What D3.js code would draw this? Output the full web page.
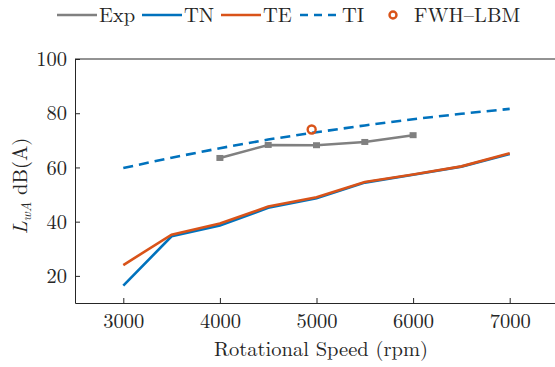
<!DOCTYPE html>
<html>
<head>
<meta charset="utf-8">
<script src="https://cdn.jsdelivr.net/npm/d3@7"></script>
<style>
  body { margin: 0; background: #fff; }
  text { font-family: "Latin Modern Roman", "CMU Serif", "DejaVu Serif", serif; fill: #262626; }
</style>
</head>
<body>
<svg id="chart" width="555" height="367"></svg>
<script>
// rotational speed (rpm)
const speeds = [3000, 3500, 4000, 4500, 5000, 5500, 6000, 6500, 7000];
const tn = [16.4, 34.6, 38.6, 45.1, 48.6, 54.4, 57.3, 60.3, 65.0];
const te = [24.0, 35.2, 39.3, 45.6, 49.0, 54.6, 57.4, 60.4, 65.2];
const ti = [59.8, 63.6, 67.1, 70.3, 73.0, 75.5, 77.8, 79.8, 81.6];
const expSpeeds = [4000, 4500, 5000, 5500, 6000];
const expVals = [63.5, 68.3, 68.2, 69.4, 71.9];
const lbm = [{x: 4950, y: 74.0}];
const xTicks = [3000, 4000, 5000, 6000, 7000];
const yTicks = [20, 40, 60, 80, 100];

const svg = d3.select("#chart");
const m = {left: 75, top: 59, right: 558, bottom: 303};
const fs = 20.5;

const x = d3.scaleLinear().domain([2500, 7500]).range([m.left, m.right]);
const y = d3.scaleLinear().domain([10, 100]).range([m.bottom, m.top]);

const gray = "#808080", blue = "#0072BD", orange = "#D95319";

// axes
svg.append("g")
  .attr("transform", `translate(0,${m.bottom})`)
  .call(d3.axisBottom(x).tickValues(xTicks).tickFormat(d3.format("d"))
    .tickSize(-5).tickSizeOuter(0).tickPadding(10))
  .call(g => g.selectAll("text").attr("font-size", fs).attr("font-family", null))
  .call(g => g.select(".domain").attr("stroke", "#262626"));

svg.append("g")
  .attr("transform", `translate(${m.left},0)`)
  .call(d3.axisLeft(y).tickValues(yTicks).tickSize(-5).tickSizeOuter(0).tickPadding(8))
  .call(g => g.selectAll("text").attr("font-size", fs).attr("font-family", null))
  .call(g => g.select(".domain").attr("stroke", "#262626"));

svg.selectAll(".tick line").attr("stroke", "#262626");

// top box line
svg.append("line")
  .attr("x1", m.left).attr("x2", m.right)
  .attr("y1", m.top).attr("y2", m.top)
  .attr("stroke", "#262626");

// lines
const line = d3.line().x(d => x(d[0])).y(d => y(d[1]));

svg.append("path").datum(d3.zip(speeds, ti))
  .attr("d", line).attr("fill", "none")
  .attr("stroke", blue).attr("stroke-width", 2.6).attr("stroke-dasharray", "10,6");

svg.append("path").datum(d3.zip(speeds, tn))
  .attr("d", line).attr("fill", "none")
  .attr("stroke", blue).attr("stroke-width", 2.6);

svg.append("path").datum(d3.zip(speeds, te))
  .attr("d", line).attr("fill", "none")
  .attr("stroke", orange).attr("stroke-width", 2.6);

const expData = d3.zip(expSpeeds, expVals);
svg.append("path").datum(expData)
  .attr("d", line).attr("fill", "none")
  .attr("stroke", gray).attr("stroke-width", 2.6);

svg.selectAll(".expm").data(expData).join("rect")
  .attr("x", d => x(d[0]) - 3.5).attr("y", d => y(d[1]) - 3)
  .attr("width", 7).attr("height", 6)
  .attr("fill", gray);

svg.selectAll(".lbm").data(lbm).join("circle")
  .attr("cx", d => x(d.x)).attr("cy", d => y(d.y)).attr("r", 4)
  .attr("fill", "none").attr("stroke", orange).attr("stroke-width", 2.4);

// axis labels
svg.append("text")
  .attr("x", 321).attr("y", 356)
  .attr("text-anchor", "middle").attr("font-size", fs)
  .text("Rotational Speed (rpm)");

const yl = svg.append("text")
  .attr("transform", "translate(27,186) rotate(-90)")
  .attr("text-anchor", "middle").attr("font-size", fs);
yl.append("tspan").attr("font-style", "italic").text("L");
yl.append("tspan").attr("font-style", "italic").attr("font-size", 14).attr("dy", 4).text("wA");
yl.append("tspan").attr("dy", -4).text(" dB(A)");

// legend
const legend = [
  {label: "Exp", color: gray, dash: null, x: 57},
  {label: "TN", color: blue, dash: null, x: 142},
  {label: "TE", color: orange, dash: null, x: 221},
  {label: "TI", color: blue, dash: "8,6", x: 300}
];
const lg = svg.append("g");
legend.forEach(d => {
  lg.append("line")
    .attr("x1", d.x).attr("x2", d.x + 40).attr("y1", 15).attr("y2", 15)
    .attr("stroke", d.color).attr("stroke-width", 2.6)
    .attr("stroke-dasharray", d.dash);
  lg.append("text")
    .attr("x", d.x + 42).attr("y", 22).attr("font-size", fs).text(d.label);
});
lg.append("circle").attr("cx", 393).attr("cy", 15).attr("r", 3.5)
  .attr("fill", "none").attr("stroke", orange).attr("stroke-width", 2.4);
lg.append("text").attr("x", 414).attr("y", 22).attr("font-size", fs).text("FWH–LBM");
</script>
</body>
</html>
